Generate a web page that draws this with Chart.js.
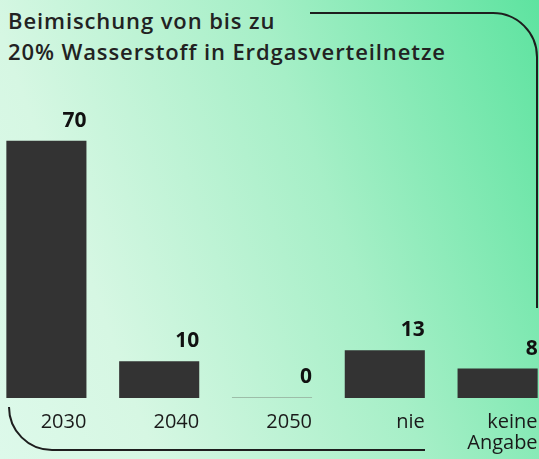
<!DOCTYPE html>
<html lang="de">
<head>
    <meta charset="UTF-8">
    <title>Beimischung von bis zu 20% Wasserstoff</title>
    <script src="https://cdn.jsdelivr.net/npm/chart.js"></script>
    <style>
        html, body { margin: 0; padding: 0; }
        body {
            width: 539px; height: 459px; overflow: hidden; position: relative;
            background: linear-gradient(70deg, #ddf9ea 0%, #d6f7e3 22%, #a6efc7 60%, #5ee3a0 100%);
            font-family: 'Open Sans', sans-serif;
        }
        .title {
            position: absolute; left: 8px; top: 5px;
            font-size: 22px; font-weight: 600; line-height: 31px; color: #222;
            letter-spacing: 0.9px;
        }
        .chart-box {
            position: absolute; left: -10px; top: 0;
            width: 564px; height: 459px;
        }
        svg.deco { position: absolute; left: 0; top: 0; pointer-events: none; }
    </style>
</head>
<body>
    <div class="title">Beimischung von bis zu<br>20% Wasserstoff in Erdgasverteilnetze</div>
    <div class="chart-box"><canvas id="h2Chart"></canvas></div>
    <svg class="deco" width="539" height="459">
        <path d="M310 13 H493 A44 44 0 0 1 537 57 V308" fill="none" stroke="#1e1e1e" stroke-width="2"/>
        <path d="M9 407 A43 43 0 0 0 52 450 H425" fill="none" stroke="#1e1e1e" stroke-width="2"/>
    </svg>

    <script>
        const categories = ['2030', '2040', '2050', 'nie', ['keine', 'Angabe']];
        const values = [70, 10, 0, 13, 8];

        // value above each bar, right-aligned to the bar's right edge
        const valueLabels = {
            id: 'valueLabels',
            afterDatasetsDraw(chart) {
                const ctx = chart.ctx;
                const meta = chart.getDatasetMeta(0);
                ctx.save();
                ctx.font = '700 21px "Open Sans", sans-serif';
                ctx.fillStyle = '#111';
                ctx.textAlign = 'right';
                ctx.textBaseline = 'alphabetic';
                meta.data.forEach((bar, i) => {
                    const right = bar.x + bar.width / 2;
                    const top = Math.min(bar.y, bar.base);
                    ctx.fillText(String(values[i]), right, top - 14);
                });
                ctx.restore();
            }
        };

        new Chart(document.getElementById('h2Chart'), {
            type: 'bar',
            data: {
                labels: categories,
                datasets: [{
                    data: values,
                    backgroundColor: values.map(v => v === 0 ? '#9dbda8' : '#333333'),
                    borderWidth: 0,
                    minBarLength: 1,
                    barPercentage: 0.71,
                    categoryPercentage: 1
                }]
            },
            options: {
                responsive: true,
                maintainAspectRatio: false,
                animation: false,
                layout: { padding: { top: 104, left: 0, right: 0, bottom: 0 } },
                scales: {
                    x: {
                        grid: { display: false, drawTicks: false },
                        border: { display: false },
                        afterFit: s => {
                            s.height = 61;
                            // labels are shifted by labelOffset, no side padding needed
                            s.paddingLeft = 0;
                            s.paddingRight = 0;
                        },
                        ticks: {
                            color: '#1a1a1a',
                            font: { family: 'Open Sans', size: 20, weight: '400', lineHeight: 1.05 },
                            align: 'end',
                            labelOffset: 40,
                            padding: 14,
                            maxRotation: 0
                        }
                    },
                    y: { display: false, min: 0, max: 80 }
                },
                plugins: {
                    legend: { display: false },
                    tooltip: { enabled: false }
                }
            },
            plugins: [valueLabels]
        });
    </script>
</body>
</html>
